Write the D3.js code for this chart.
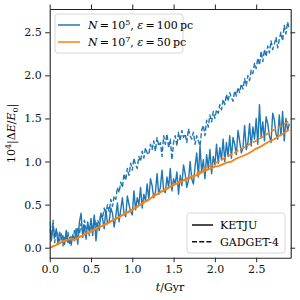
<!DOCTYPE html>
<html>
<head>
<meta charset="utf-8">
<script src="https://cdn.jsdelivr.net/npm/d3@7"></script>
<style>
	body { margin: 0; background: white; }
	svg { display: block; font-family: "DejaVu Serif", serif; }
</style>
</head>
<body>
<script>
// sampling steps of the two runs (Gyr)
var blueStep = 0.02;
var orangeStep = 0.05;

// N = 1e5, eps = 100 pc
var blueKetju = [
	0.30, 0.08, 0.26, 0.12, 0.22, 0.05, 0.18, 0.10, 0.14, 0.04,
	0.20, 0.06, 0.12, 0.03, 0.15, 0.08, 0.22, 0.04, 0.30, 0.40,
	0.12, 0.26, 0.10, 0.30, 0.18, 0.34, 0.14, 0.38, 0.08, 0.28,
	0.20, 0.40, 0.34, 0.22, 0.44, 0.28, 0.30, 0.46, 0.40, 0.24,
	0.36, 0.52, 0.30, 0.44, 0.58, 0.40, 0.36, 0.60, 0.50, 0.42,
	0.38, 0.66, 0.44, 0.58, 0.50, 0.70, 0.46, 0.62, 0.54, 0.74,
	0.56, 0.80, 0.72, 0.58, 0.64, 0.86, 0.62, 0.70, 0.90, 0.66,
	0.64, 0.82, 0.70, 0.92, 0.66, 0.80, 0.74, 0.88, 0.62, 0.84,
	0.72, 0.96, 0.86, 0.70, 0.78, 1.00, 0.80, 0.74, 0.94, 1.10,
	0.82, 1.18, 0.88, 1.02, 0.80, 1.08, 0.92, 1.14, 0.86, 1.06,
	0.96, 1.20, 0.98, 1.16, 1.02, 1.26, 1.00, 1.22, 1.06, 1.30,
	1.04, 1.28, 1.20, 1.08, 1.36, 1.24, 1.10, 1.16, 1.42, 1.14,
	1.22, 1.44, 1.18, 1.40, 1.26, 1.50, 1.20, 1.66, 1.28, 1.46,
	1.24, 1.52, 1.44, 1.30, 1.22, 1.56, 1.48, 1.32, 1.26, 1.54,
	1.30, 1.58, 1.24, 1.50, 1.36, 1.44
];
var blueGadget = [
	0.22, 0.10, 0.32, 0.06, 0.20, 0.14, 0.08, 0.16, 0.02, 0.12,
	0.08, 0.18, 0.05, 0.14, 0.10, 0.20, 0.12, 0.24, 0.16, 0.28,
	0.18, 0.32, 0.22, 0.26, 0.14, 0.30, 0.20, 0.36, 0.24, 0.32,
	0.28, 0.40, 0.34, 0.46, 0.38, 0.50, 0.42, 0.56, 0.48, 0.60,
	0.56, 0.70, 0.64, 0.76, 0.70, 0.86, 0.78, 0.92, 0.84, 0.98,
	0.90, 1.04, 0.96, 0.92, 1.06, 1.00, 1.12, 1.04, 1.16, 1.10,
	1.08, 1.20, 1.14, 1.24, 1.12, 1.28, 1.18, 1.22, 1.06, 1.30,
	1.20, 1.32, 1.16, 1.26, 1.02, 1.22, 1.30, 1.18, 1.34, 1.24,
	1.36, 1.28, 1.32, 1.22, 1.38, 1.30, 1.26, 1.34, 1.20, 1.30,
	1.24, 1.18, 1.36, 1.42, 1.30, 1.48, 1.40, 1.54, 1.46, 1.58,
	1.50, 1.60, 1.56, 1.66, 1.60, 1.72, 1.66, 1.78, 1.70, 1.80,
	1.74, 1.70, 1.82, 1.76, 1.86, 1.80, 1.90, 1.84, 1.96, 1.88,
	2.00, 1.94, 2.06, 2.02, 2.14, 2.08, 2.20, 2.12, 2.28, 2.16,
	2.30, 2.22, 2.34, 2.26, 2.40, 2.30, 2.36, 2.44, 2.32, 2.42,
	2.50, 2.40, 2.58, 2.48, 2.62, 2.54
];

// N = 1e7, eps = 50 pc
var orangeKetju = [
	0.00, 0.02, 0.04, 0.07, 0.09, 0.10, 0.09, 0.12, 0.14, 0.17,
	0.19, 0.21, 0.24, 0.26, 0.28, 0.31, 0.34, 0.36, 0.39, 0.41,
	0.44, 0.47, 0.50, 0.53, 0.56, 0.59, 0.62, 0.65, 0.67, 0.70,
	0.73, 0.75, 0.77, 0.79, 0.81, 0.83, 0.85, 0.88, 0.90, 0.92,
	0.94, 0.95, 0.97, 0.99, 1.00, 1.03, 1.05, 1.07, 1.09, 1.12,
	1.15, 1.17, 1.20, 1.23, 1.25, 1.28, 1.31, 1.34, 1.37
];
var orangeGadget = [
	0.00, 0.02, 0.05, 0.07, 0.08, 0.10, 0.10, 0.12, 0.15, 0.17,
	0.19, 0.22, 0.24, 0.26, 0.29, 0.31, 0.33, 0.36, 0.39, 0.42,
	0.44, 0.47, 0.50, 0.53, 0.56, 0.60, 0.62, 0.65, 0.68, 0.70,
	0.73, 0.75, 0.78, 0.80, 0.82, 0.84, 0.87, 0.90, 0.93, 0.95,
	0.98, 1.00, 1.03, 1.06, 1.08, 1.11, 1.14, 1.16, 1.19, 1.22,
	1.24, 1.27, 1.30, 1.33, 1.36, 1.38, 1.41, 1.44, 1.47
];

var xTicks = [0, 0.5, 1.0, 1.5, 2.0, 2.5];
var yTicks = [0, 0.5, 1.0, 1.5, 2.0, 2.5];

var blue = "#1f77b4";
var orange = "#ff7f0e";

function toPoints(values, step) {
	return values.map(function (v, i) { return { t: i * step, v: v }; });
}

function drawChart() {
	var width = 300, height = 300;
	var left = 49.7, right = 290.7, top = 9, bottom = 257.7;

	var svg = d3.select("body").append("svg")
		.attr("width", width)
		.attr("height", height);

	var x = d3.scaleLinear().domain([0, 2.918]).range([left, right]);
	var y = d3.scaleLinear().domain([-0.116, 2.77]).range([bottom, top]);

	svg.append("defs").append("clipPath")
		.attr("id", "plot-clip")
		.append("rect")
		.attr("x", left).attr("y", top)
		.attr("width", right - left).attr("height", bottom - top);

	var line = d3.line()
		.x(function (d) { return x(d.t); })
		.y(function (d) { return y(d.v); });

	var series = [
		{ data: toPoints(blueKetju, blueStep), color: blue, dash: null, w: 1.4 },
		{ data: toPoints(blueGadget, blueStep), color: blue, dash: "5,2.2", w: 1.4 },
		{ data: toPoints(orangeKetju, orangeStep), color: orange, dash: null, w: 1.8 },
		{ data: toPoints(orangeGadget, orangeStep), color: orange, dash: "5,2.2", w: 1.8 }
	];

	svg.append("g")
		.attr("clip-path", "url(#plot-clip)")
		.selectAll("path")
		.data(series)
		.enter().append("path")
		.attr("d", function (d) { return line(d.data); })
		.attr("fill", "none")
		.attr("stroke", function (d) { return d.color; })
		.attr("stroke-width", function (d) { return d.w; })
		.attr("stroke-dasharray", function (d) { return d.dash; })
		.attr("stroke-linejoin", "round");

	// axes, ticks outward on all four sides
	var fmt = d3.format(".1f");
	var axes = [
		{ axis: d3.axisBottom(x).tickValues(xTicks).tickFormat(fmt), tr: "translate(0," + bottom + ")" },
		{ axis: d3.axisTop(x).tickValues(xTicks).tickFormat(""), tr: "translate(0," + top + ")" },
		{ axis: d3.axisLeft(y).tickValues(yTicks).tickFormat(fmt), tr: "translate(" + left + ",0)" },
		{ axis: d3.axisRight(y).tickValues(yTicks).tickFormat(""), tr: "translate(" + right + ",0)" }
	];
	axes.forEach(function (a) {
		var g = svg.append("g")
			.attr("transform", a.tr)
			.call(a.axis.tickSizeInner(4.5).tickSizeOuter(0).tickPadding(3.5));
		g.select(".domain").attr("stroke", "#222").attr("stroke-width", 1.1);
		g.selectAll(".tick line").attr("stroke", "#222").attr("stroke-width", 1);
		g.selectAll(".tick text")
			.attr("fill", "#111")
			.style("font-family", "DejaVu Serif, serif")
			.style("font-size", "11px");
	});

	// axis labels
	var xl = svg.append("text")
		.attr("x", 170).attr("y", 291)
		.attr("text-anchor", "middle")
		.style("font-size", "11px");
	xl.append("tspan").style("font-style", "italic").text("t");
	xl.append("tspan").text("/Gyr");

	var yl = svg.append("text")
		.attr("transform", "translate(15," + ((top + bottom) / 2) + ") rotate(-90)")
		.attr("text-anchor", "middle")
		.style("font-size", "11px");
	yl.append("tspan").text("10");
	yl.append("tspan").attr("dy", -4).style("font-size", "8px").text("4");
	yl.append("tspan").attr("dy", 4).text("|Δ");
	yl.append("tspan").style("font-style", "italic").text("E");
	yl.append("tspan").text("/");
	yl.append("tspan").style("font-style", "italic").text("E");
	yl.append("tspan").attr("dy", 2.5).style("font-size", "8px").text("0");
	yl.append("tspan").attr("dy", -2.5).text("|");

	// legend: runs
	var leg1 = svg.append("g");
	leg1.append("rect")
		.attr("x", 55).attr("y", 14).attr("width", 128).attr("height", 39)
		.attr("rx", 3)
		.attr("fill", "white").attr("fill-opacity", 0.8)
		.attr("stroke", "#d6d6d6");
	var runs = [
		{ color: blue, n: "5", eps: "100" },
		{ color: orange, n: "7", eps: "50" }
	];
	runs.forEach(function (r, i) {
		var ly = 25 + i * 17;
		leg1.append("line")
			.attr("x1", 58).attr("x2", 80).attr("y1", ly).attr("y2", ly)
			.attr("stroke", r.color).attr("stroke-width", 1.5);
		var t = leg1.append("text")
			.attr("x", 88).attr("y", ly + 4)
			.style("font-size", "11px");
		t.append("tspan").style("font-style", "italic").text("N");
		t.append("tspan").text("\u2009=\u200910");
		t.append("tspan").attr("dy", -4).style("font-size", "8px").text(r.n);
		t.append("tspan").attr("dy", 4).text(", ");
		t.append("tspan").style("font-style", "italic").text("ε");
		t.append("tspan").text("\u2009=\u2009" + r.eps + "\u2009pc");
	});

	// legend: codes
	var leg2 = svg.append("g");
	leg2.append("rect")
		.attr("x", 187).attr("y", 213).attr("width", 98).attr("height", 40)
		.attr("rx", 3)
		.attr("fill", "white").attr("fill-opacity", 0.8)
		.attr("stroke", "#d6d6d6");
	var codes = [
		{ name: "KETJU", dash: null },
		{ name: "GADGET-4", dash: "5,2.2" }
	];
	codes.forEach(function (c, i) {
		var ly = 225 + i * 16.7;
		leg2.append("line")
			.attr("x1", 192).attr("x2", 213).attr("y1", ly).attr("y2", ly)
			.attr("stroke", "#111").attr("stroke-width", 1.5)
			.attr("stroke-dasharray", c.dash);
		leg2.append("text")
			.attr("x", 220).attr("y", ly + 4)
			.style("font-size", "11px")
			.text(c.name);
	});
}

window.addEventListener("DOMContentLoaded", function () {
	drawChart();
}, false);
</script>
</body>
</html>
